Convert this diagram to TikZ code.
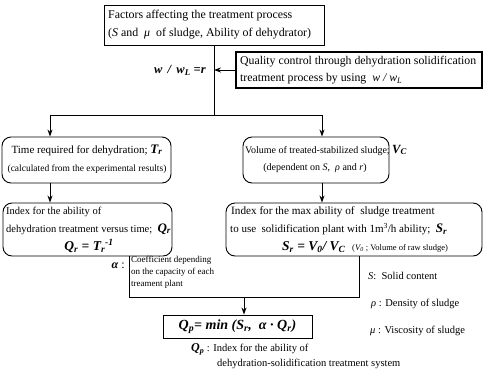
\documentclass[tikz,border=0pt]{standalone}
\usepackage{fontspec}
\setmainfont{Liberation Serif}
\usetikzlibrary{arrows.meta}
\newcommand{\bi}[1]{\textbf{\textit{#1}}}
\newcommand{\sub}[1]{\textsubscript{\textit{#1}}}
\newcommand{\fs}[1]{\fontsize{#1}{#1}\selectfont}
\begin{document}
\begin{tikzpicture}[x=1pt,y=-1pt,
  box/.style={draw, line width=0.9pt, inner sep=0pt},
  rbox/.style={draw, line width=0.9pt, rounded corners=9pt, inner sep=0pt},
  con/.style={line width=0.9pt},
  arr/.style={line width=0.9pt, -{Stealth[length=7pt,width=5pt]}},
  txt/.style={inner sep=0pt, anchor=west},
  ctxt/.style={inner sep=0pt},
]
\useasboundingbox (0,0) rectangle (484,386);
% boxes
\node[box, minimum width=220pt, minimum height=40pt] (top) at (214,25) {};
\node[box, line width=1.6pt, minimum width=246pt, minimum height=36pt] (qc) at (359,70) {};
\node[rbox, minimum width=169pt, minimum height=46pt] (b2l) at (86.5,160) {};
\node[rbox, minimum width=146pt, minimum height=46pt] (b2r) at (316,160) {};
\node[rbox, minimum width=169pt, minimum height=53pt] (b3l) at (87.5,229.5) {};
\node[rbox, minimum width=256pt, minimum height=53pt] (b3r) at (354,229.5) {};
\node[box, minimum width=149pt, minimum height=23pt] (qp) at (237.5,326.5) {};
% texts
\node[txt, font=\fs{11.9}] (t1) at (108,16) {Factors affecting the treatment process};
\node[txt, font=\fs{11.9}] (t2) at (108,34) {(\textit{S} and \ \textit{μ} \ of sludge, Ability of dehydrator)};
\node[ctxt, anchor=east, font=\fs{12.5}] (wl) at (206,70) {\bi{w \,/\, w\sub{L} =r}};
\node[txt, font=\fs{11.8}] (q1) at (240,62) {Quality control through dehydration solidification};
\node[txt, font=\fs{11.8}] (q2) at (240,79) {treatment process by using \ \textit{w / w\sub{L}}};
\node[ctxt, font=\fs{11}] (l21) at (87,150) {Time required for dehydration; {\fs{13}\bi{T\sub{r}}}};
\node[ctxt, font=\fs{9.5}] (l22) at (87,169) {(calculated from the experimental results)};
\node[txt, font=\fs{10}] (r21) at (245,150) {Volume of treated-stabilized sludge; {\fs{12.5}\bi{V\sub{C}}}};
\node[ctxt, font=\fs{10}] (r22) at (315,168) {(dependent on \textit{S}, \ \textit{ρ} and \textit{r})};
\node[txt, font=\fs{10.5}] (l31) at (6,212) {Index for the ability of};
\node[txt, font=\fs{10.5}] (l32) at (6,229) {dehydration treatment versus time; \ {\fs{13}\bi{Q\sub{r}}}};
\node[ctxt, font=\fs{13.5}] (l33) at (89,246) {\bi{Q\sub{r} = T\sub{r}\textsuperscript{-1}}};
\node[txt, font=\fs{11.2}] (r31) at (231,212) {Index for the max ability of \ sludge treatment};
\node[txt, font=\fs{11}] (r32) at (230,229) {to use \ solidification plant with 1m\textsuperscript{3}/h ability; \ {\fs{13}\bi{S\sub{r}}}};
\node[txt, font=\fs{13.5}] (r33) at (282,247) {\bi{S\sub{r} = V\sub{0}/ V\sub{C}} \ {\fs{8.5}(\textit{V\sub{0}} ; Volume of raw sludge)}};
\node[ctxt, anchor=east, font=\fs{12}] (al) at (125,266) {\bi{α} :};
\node[txt, font=\fs{9}] (a1) at (131,260) {Coefficient depending};
\node[txt, font=\fs{9}] (a2) at (131,272) {on the capacity of each};
\node[txt, font=\fs{9}] (a3) at (131,284) {treament plant};
\node[ctxt, font=\fs{14}] (qpt) at (qp) {\bi{Q\sub{p}= min (S\sub{r}, \ α · Q\sub{r})}};
\node[txt, font=\fs{10.5}] (s1) at (368,276) {\textit{S}: \ Solid content};
\node[txt, font=\fs{10.5}] (s2) at (371,304) {\textit{ρ} : Density of sludge};
\node[txt, font=\fs{10.5}] (s3) at (370,331) {\textit{μ} : Viscosity of sludge};
\node[txt, font=\fs{10.5}] (bq1) at (191,349) {{\fs{12}\bi{Q\sub{p}}} : Index for the ability of};
\node[txt, font=\fs{10.5}] (bq2) at (217,364) {dehydration-solidification treatment system};
% connectors
\coordinate (split) at (214,115);
\coordinate (sl) at (50,115);
\coordinate (sr) at (322,115);
\coordinate (jl) at (129,297);
\coordinate (jr) at (359,297);
\coordinate (jm) at (244,297);
\draw[con] (top.south) -- (split);
\draw[arr] (qc.west) -- (qc.west -| top.south);
\draw[con] (sl) -- (sr);
\draw[arr] (sl) -- (sl |- b2l.north);
\draw[arr] (sr) -- (sr |- b2r.north);
\draw[arr] (sl |- b2l.south) -- (sl |- b3l.north);
\draw[arr] (sr |- b2r.south) -- (sr |- b3r.north);
\draw[con] (jl |- b3l.south) -- (jl) -- (jr) -- (jr |- b3r.south);
\draw[arr] (jm) -- (jm |- qp.north);
\end{tikzpicture}
\end{document}
